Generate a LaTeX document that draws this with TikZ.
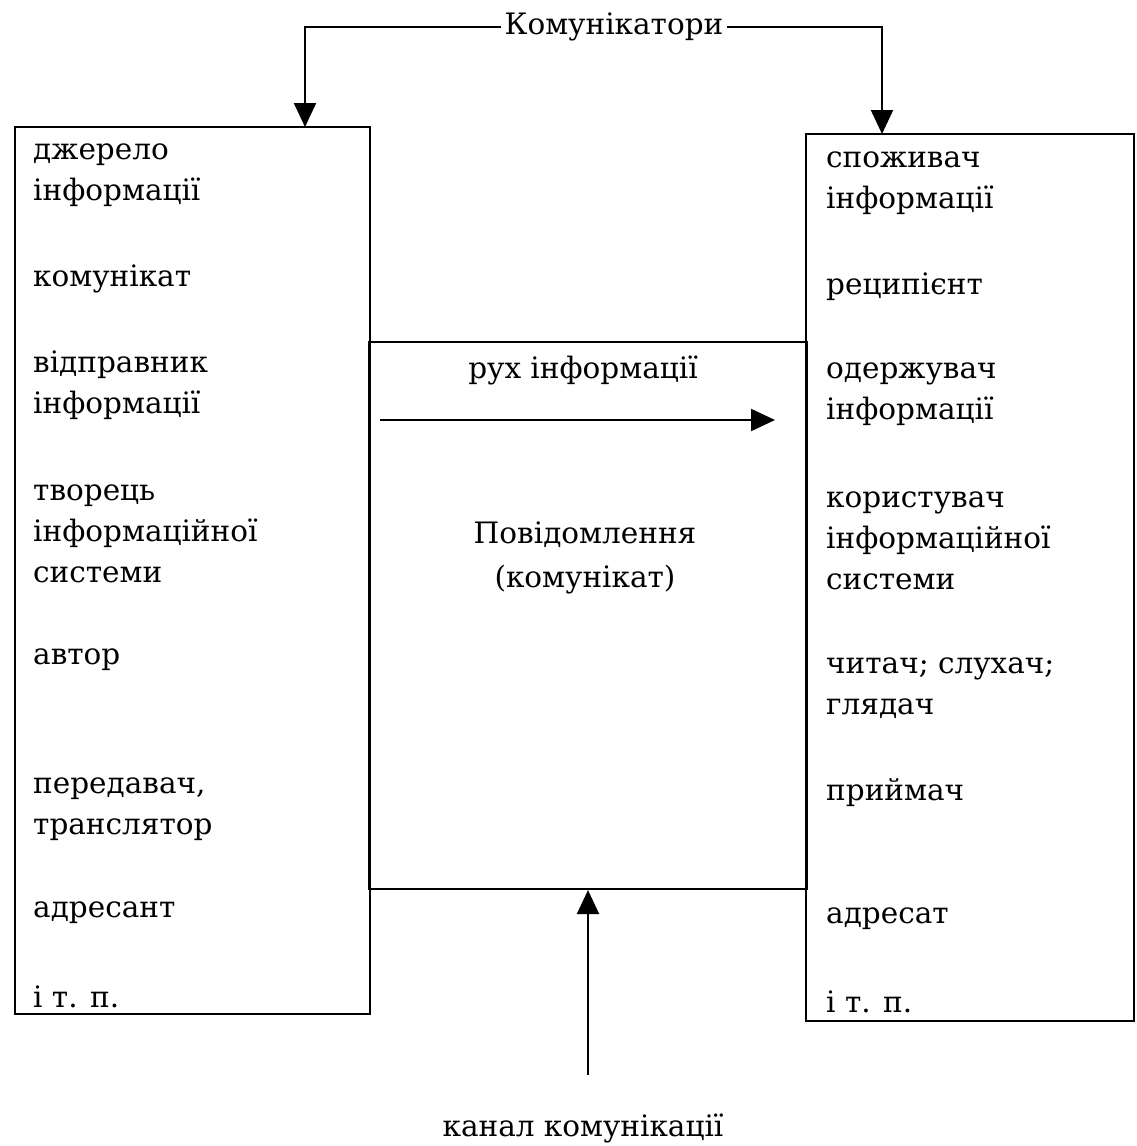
\documentclass[tikz,border=0pt]{standalone}
\usepackage{fontspec}
\setmainfont{DejaVu Serif}
\usetikzlibrary{arrows.meta}
\begin{document}
\begin{tikzpicture}[x=1pt,y=-1pt,
  box/.style={draw, line width=2.2pt, inner sep=0pt, rectangle},
  item/.style={anchor=west, align=left, inner sep=0pt, font=\fontsize{29.5}{41}\selectfont, text=black},
  lbl/.style={inner sep=3pt, font=\fontsize{29.5}{41}\selectfont, text=black},
  arr/.style={line width=2.2pt, -{Triangle[length=24pt,width=22pt]}},
  ln/.style={line width=2.2pt}
]
\useasboundingbox (0,0) rectangle (1137,1146);
% boxes
\node[box, minimum width=437pt, minimum height=547pt] (M) at (588,615.5) {};
\node[box, minimum width=355pt, minimum height=887pt] (L) at (192.5,570.5) {};
\node[box, minimum width=328pt, minimum height=887pt] (R) at (970,577.5) {};
% top label and connectors
\node[lbl] (K) at (614,27) {Комунікатори};
\coordinate (lt) at (305,127);
\coordinate (rt) at (882,134);
\draw[arr] (K.west) -| (lt);
\draw[arr] (K.east) -| (rt);
% left items
\node[item] (l1) at (33,175) {джерело\\інформації};
\node[item] (l2) at (33,279) {комунікат};
\node[item] (l3) at (33,385) {відправник\\інформації};
\node[item] (l4) at (33,534) {творець\\інформаційної\\системи};
\node[item] (l5) at (33,660) {автор};
\node[item] (l6) at (33,809) {передавач,\\транслятор};
\node[item] (l7) at (33,913) {адресант};
\node[item] (l8) at (33,997) {і т. п.};
% right items
\node[item] (r1) at (826,183) {споживач\\інформації};
\node[item] (r2) at (826,287) {реципієнт};
\node[item] (r3) at (826,394) {одержувач\\інформації};
\node[item] (r4) at (826,541) {користувач\\інформаційної\\системи};
\node[item] (r5) at (826,688) {читач; слухач;\\глядач};
\node[item] (r6) at (826,793) {приймач};
\node[item] (r7) at (826,919) {адресат};
\node[item] (r8) at (826,1002) {і т. п.};
% middle
\node[lbl] (rux) at (583,370) {рух інформації};
\coordinate (a1) at (380,420);
\coordinate (a2) at (775,420);
\draw[arr] (a1) -- (a2);
\node[lbl, align=center, font=\fontsize{29.5}{44}\selectfont] (msg) at (585,558) {Повідомлення\\(комунікат)};
% bottom
\node[lbl] (ch) at (583,1128) {канал комунікації};
\coordinate (c1) at (588,1075);
\draw[arr] (c1) -- (M.south);
\end{tikzpicture}
\end{document}
